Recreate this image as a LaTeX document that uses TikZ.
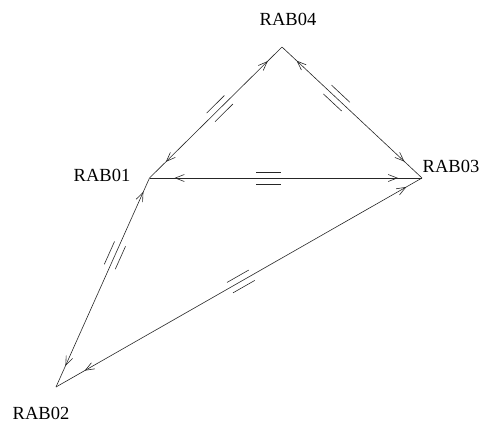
\documentclass[tikz,border=0pt]{standalone}
\usepackage{fontspec}
\setmainfont{Liberation Serif}
\usetikzlibrary{arrows.meta,decorations.markings}
\begin{document}
\begin{tikzpicture}[x=1pt,y=-1pt,
  lab/.style={inner sep=0pt,font=\fontsize{18.5}{20}\selectfont},
  link/.style n args={3}{draw=black!85,line width=0.6pt,
    postaction={decorate,decoration={markings,
      mark=at position #1 with {\arrowreversed[line width=0.6pt]{Straight Barb[length=9pt,width=7pt]}},
      mark=at position -#2 with {\arrow[line width=0.6pt]{Straight Barb[length=9pt,width=7pt]}},
      mark=at position #3 with {\draw[line width=0.6pt,draw=black!85] (-12.5pt,6pt) -- (12.5pt,6pt) (-12.5pt,-6pt) -- (12.5pt,-6pt);}}}}]
\useasboundingbox (0,0) rectangle (485,424);
\coordinate (r04) at (282,47);
\coordinate (r01) at (149.5,178);
\coordinate (r03) at (422,178);
\coordinate (r02) at (56,387);
\node[lab] (l04) at (288,19) {RAB04};
\node[lab] (l01) at (102,175.5) {RAB01};
\node[lab] (l03) at (451,166) {RAB03};
\node[lab] (l02) at (41,413) {RAB02};
\path[link={20pt}{23pt}{0.47}] (r04) -- (r01);
\path[link={20pt}{24pt}{0.39}] (r04) -- (r03);
\path[link={25pt}{24pt}{0.437}] (r01) -- (r03);
\path[link={15pt}{23pt}{0.37}] (r01) -- (r02);
\path[link={33pt}{18pt}{0.505}] (r02) -- (r03);
\end{tikzpicture}
\end{document}
